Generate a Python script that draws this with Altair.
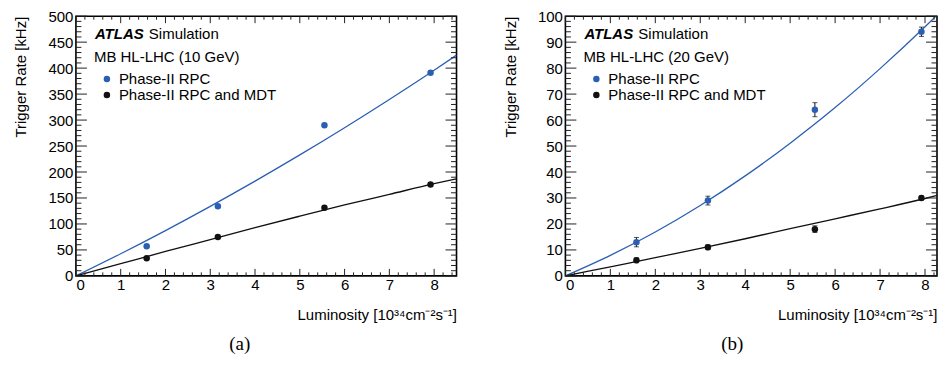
import altair as alt
import pandas as pd

# ---------------- data ----------------
lumi = [1.58, 3.17, 5.55, 7.92]

# panel (a): 10 GeV
a_rpc = [57, 134, 290, 391]
a_rpc_err = [1.5, 2.0, 3.0, 3.0]
a_mdt = [34, 75, 131, 176]
a_mdt_err = [1.0, 1.5, 2.0, 2.0]

# panel (b): 20 GeV
b_rpc = [13, 29, 64, 94]
b_rpc_err = [1.8, 1.7, 2.7, 1.8]
b_mdt = [6, 11, 18, 30]
b_mdt_err = [0.9, 0.9, 1.3, 0.7]

# fitted curves
fit_x = [0, 1, 2, 3, 4, 5, 6, 7, 8, 8.5]
a_rpc_fit = [0, 42.7, 87.3, 133.9, 182.4, 232.9, 285.3, 339.7, 396, 425]
a_mdt_fit = [0, 23.5, 47, 70, 93, 115, 136.5, 157, 177.5, 187]
b_rpc_fit = [0, 7.9, 16.9, 27.1, 38.5, 51.1, 64.8, 79.8, 95.9, 104.4]
b_mdt_fit = [0, 3.5, 7.0, 10.6, 14.3, 18.2, 22.0, 25.8, 29.8, 32.0]

series_names = ["Phase-II RPC", "Phase-II RPC and MDT"]
energies = ["MB HL-LHC (10 GeV)", "MB HL-LHC (20 GeV)"]
captions = ["(a)", "(b)"]

x_major = [0, 1, 2, 3, 4, 5, 6, 7, 8]
x_minor = [round(i * 0.2, 2) for i in range(43) if i % 5 != 0]
a_y_major = [0, 50, 100, 150, 200, 250, 300, 350, 400, 450, 500]
a_y_minor = [v for v in range(0, 501, 10) if v % 50 != 0]
b_y_major = [0, 10, 20, 30, 40, 50, 60, 70, 80, 90, 100]
b_y_minor = [v for v in range(0, 101, 2) if v % 10 != 0]

BLUE = "#2b5fb3"
BLACK = "#111111"
FONT = "Liberation Sans"
H = 260


def panel(W, xmax, ymax, y_major, y_minor, rpc, rpc_err, mdt, mdt_err,
          rpc_fit, mdt_fit, energy, cap, cap_x):
    xs = alt.Scale(domain=[0, xmax], nice=False, zero=False)
    ys = alt.Scale(domain=[0, ymax], nice=False, zero=False)
    ax_x = alt.Axis(
        values=x_major, format="d", title="Luminosity [10³⁴cm⁻²s⁻¹]",
        titleAnchor="end", titleAlign="right", titleX=W, titleY=44,
        titleBaseline="alphabetic", labelPadding=2,
    )
    ax_y = alt.Axis(
        values=y_major, format="d", title="Trigger Rate [kHz]",
        titleAngle=-90, titleAlign="right", titleBaseline="top",
        titleX=-62, titleY=0, labelPadding=3,
    )

    def X(f="x"):
        return alt.X(f + ":Q", scale=xs, axis=ax_x)

    def Y(f="y"):
        return alt.Y(f + ":Q", scale=ys, axis=ax_y)

    fits = pd.DataFrame({
        "x": fit_x * 2,
        "y": rpc_fit + mdt_fit,
        "s": [series_names[0]] * len(fit_x) + [series_names[1]] * len(fit_x),
    })
    pts = pd.DataFrame({
        "x": lumi * 2,
        "y": rpc + mdt,
        "lo": [v - e for v, e in zip(rpc, rpc_err)] + [v - e for v, e in zip(mdt, mdt_err)],
        "hi": [v + e for v, e in zip(rpc, rpc_err)] + [v + e for v, e in zip(mdt, mdt_err)],
        "s": [series_names[0]] * 4 + [series_names[1]] * 4,
    })
    col = alt.Color("s:N", scale=alt.Scale(domain=series_names, range=[BLUE, BLACK]), legend=None)

    line = alt.Chart(fits).mark_line(strokeWidth=1.3, clip=True, interpolate="monotone").encode(
        x=X(), y=Y(), color=col, detail="s:N")

    err = alt.Chart(pts).mark_rule(strokeWidth=1, color=BLACK).encode(
        x=X(), y=Y("lo"), y2="hi:Q")
    cap_lo = alt.Chart(pts).mark_tick(orient="horizontal", size=5, thickness=1, color=BLACK).encode(
        x=X(), y=Y("lo"))
    cap_hi = alt.Chart(pts).mark_tick(orient="horizontal", size=5, thickness=1, color=BLACK).encode(
        x=X(), y=Y("hi"))
    dots = alt.Chart(pts).mark_circle(size=42, opacity=1).encode(
        x=X(), y=Y(), color=col)

    tick_col = "#222222"
    dy_maj = pd.DataFrame({"y": y_major})
    dy_min = pd.DataFrame({"y": y_minor})
    dx_maj = pd.DataFrame({"x": [v for v in x_major if v <= xmax]})
    dx_min = pd.DataFrame({"x": [v for v in x_minor if v < xmax]})
    tick_layers = []
    for df, ln in ((dy_maj, 11), (dy_min, 5.5)):
        tick_layers.append(alt.Chart(df).mark_rule(color=tick_col, strokeWidth=1).encode(
            y=Y(), x=alt.value(0), x2=alt.value(ln)))
        tick_layers.append(alt.Chart(df).mark_rule(color=tick_col, strokeWidth=1).encode(
            y=Y(), x=alt.value(W), x2=alt.value(W - ln)))
    for df, ln in ((dx_maj, 7), (dx_min, 3.5)):
        tick_layers.append(alt.Chart(df).mark_rule(color=tick_col, strokeWidth=1).encode(
            x=X(), y=alt.value(H), y2=alt.value(H - ln)))
        tick_layers.append(alt.Chart(df).mark_rule(color=tick_col, strokeWidth=1).encode(
            x=X(), y=alt.value(0), y2=alt.value(ln)))

    def label(t, x, y, **kw):
        return alt.Chart(pd.DataFrame({"t": [t]})).mark_text(
            font=kw.pop("font", FONT), fontSize=kw.pop("fontSize", 15), align=kw.pop("align", "left"),
            baseline="alphabetic", color="#000", **kw).encode(
            x=alt.value(x), y=alt.value(y), text="t:N")

    atlas = label("ATLAS", 19, 23, fontWeight="bold", fontStyle="italic")
    sim = label("Simulation", 73, 23)
    en = label(energy, 18, 46)
    leg_df = pd.DataFrame({"s": series_names})
    leg1_dot = alt.Chart(leg_df.iloc[[0]]).mark_circle(size=42, opacity=1, color=BLUE).encode(
        x=alt.value(31), y=alt.value(63))
    leg2_dot = alt.Chart(leg_df.iloc[[1]]).mark_circle(size=42, opacity=1, color=BLACK).encode(
        x=alt.value(31), y=alt.value(79))
    leg1_t = label(series_names[0], 43, 68)
    leg2_t = label(series_names[1], 43, 84)
    cap_t = label(cap, cap_x, 334, font="Liberation Serif", fontSize=19, align="center")

    return alt.layer(
        line, err, cap_lo, cap_hi, dots, *tick_layers,
        atlas, sim, en, leg1_dot, leg2_dot, leg1_t, leg2_t, cap_t,
    ).properties(width=W, height=H)


W_A, W_B = 381, 372
left = panel(W_A, 8.5, 500, a_y_major, a_y_minor, a_rpc, a_rpc_err, a_mdt, a_mdt_err,
             a_rpc_fit, a_mdt_fit, energies[0], captions[0], 164)
right = panel(W_B, W_B / 45.0, 100, b_y_major, b_y_minor, b_rpc, b_rpc_err, b_mdt, b_mdt_err,
              b_rpc_fit, b_mdt_fit, energies[1], captions[1], 167)

chart = alt.hconcat(left, right, spacing=109, bounds="flush").properties(
    padding={"left": 5, "top": 0, "right": 0, "bottom": 0},
    background="white",
).configure_view(stroke="#000", strokeWidth=1.6).configure_axis(
    grid=False, domain=False, ticks=False, tickSize=0,
    labelFont=FONT, labelFontSize=15, labelColor="#000",
    titleFont=FONT, titleFontSize=15, titleFontWeight="normal", titleColor="#000",
)

chart.save("out.html", embed_options={"renderer": "svg", "actions": False})
